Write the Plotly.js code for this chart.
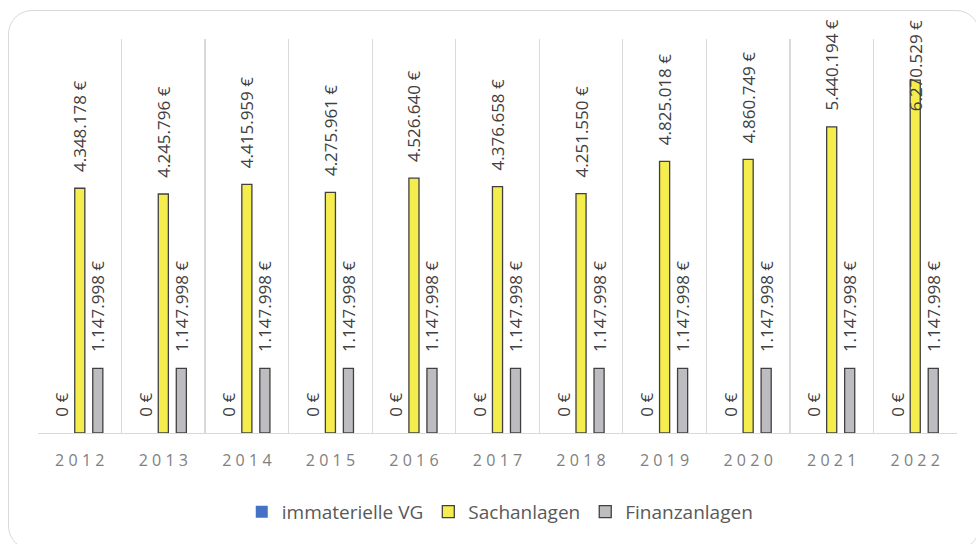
<!DOCTYPE html>
<html>
<head>
<meta charset="utf-8">
<script src="https://cdn.plot.ly/plotly-3.0.1.min.js"></script>
<style>
  html, body { margin: 0; padding: 0; background: #ffffff; }
  #wrap { position: relative; width: 976px; height: 544px; overflow: hidden; }
  #chart { position: absolute; left: 0; top: 0; width: 976px; height: 544px; }
  #frame { position: absolute; left: 8px; top: 10px; width: 972px; height: 540px;
           border: 1.5px solid #d9d9d9; border-radius: 24px; pointer-events: none; box-sizing: border-box; }
</style>
</head>
<body>
<div id="wrap">
  <div id="chart"></div>
  <div id="frame"></div>
</div>
<script>
const years = ['2012','2013','2014','2015','2016','2017','2018','2019','2020','2021','2022'];
const immaterielleVG = [0,0,0,0,0,0,0,0,0,0,0];
const sachanlagen = [4348178,4245796,4415959,4275961,4526640,4376658,4251550,4825018,4860749,5440194,6270529];
const finanzanlagen = [1147998,1147998,1147998,1147998,1147998,1147998,1147998,1147998,1147998,1147998,1147998];
const seriesNames = ['immaterielle VG','Sachanlagen','Finanzanlagen'];

function fmtEuro(v) {
  return Math.round(v).toString().replace(/\B(?=(\d{3})+(?!\d))/g, '.') + ' €';
}
function padLabel(t) { return '\u00A0\u00A0\u00A0' + t; }
const tickText = years.map(y => y.split('').join('\u2009\u200A'));

const FONT = '"Open Sans", "Noto Sans", sans-serif';
const labelFont = { family: FONT, size: 17, color: '#404040' };

// the last Sachanlagen label does not fit above the chart, so it is drawn as an annotation
const lastIdx = years.length - 1;

function barTrace(name, vals, color, lineW, skipLast) {
  return {
    type: 'bar', name: name, x: years, y: vals,
    marker: { color: color, line: { color: '#404040', width: lineW } },
    text: vals.map(v => padLabel(fmtEuro(v))),
    textposition: vals.map((v, i) => (skipLast && i === lastIdx) ? 'none' : 'outside'),
    textangle: -90,
    textfont: labelFont, cliponaxis: false, constraintext: 'none',
    hoverinfo: 'skip'
  };
}

const data = [
  barTrace(seriesNames[0], immaterielleVG, '#4472C4', 0, false),
  barTrace(seriesNames[1], sachanlagen, '#F5EC4E', 1.3, true),
  barTrace(seriesNames[2], finanzanlagen, '#BDBDC1', 1.3, false)
];

const layout = {
  width: 976, height: 544,
  margin: { l: 38, r: 19, t: 39, b: 111, pad: 0 },
  paper_bgcolor: 'rgba(0,0,0,0)', plot_bgcolor: 'rgba(0,0,0,0)',
  barmode: 'group', bargap: 0.353, bargroupgap: 0.44,
  font: { family: FONT },
  showlegend: true,
  legend: {
    orientation: 'h', x: 0.503, xanchor: 'center', y: -0.2, yanchor: 'middle',
    font: { family: FONT, size: 19, color: '#595959' }, itemwidth: 30,
    traceorder: 'normal'
  },
  xaxis: {
    type: 'category', tickson: 'boundaries', range: [-0.5, years.length - 0.5],
    ticks: '', ticklabelstandoff: 12,
    tickvals: years, ticktext: tickText, tickangle: 0,
    showgrid: true, gridcolor: '#d9d9d9', gridwidth: 1.3,
    showline: true, linecolor: '#d9d9d9', linewidth: 1.3,
    tickfont: { family: FONT, size: 16, color: '#808080' },
    fixedrange: true
  },
  yaxis: {
    range: [0, 7000000], showgrid: false, zeroline: false,
    showticklabels: false, ticks: '', showline: false, fixedrange: true
  },
  annotations: [{
    x: lastIdx, y: sachanlagen[lastIdx], xref: 'x', yref: 'y',
    text: fmtEuro(sachanlagen[lastIdx]), textangle: -90, showarrow: false,
    yshift: 14, font: labelFont
  }]
};

Plotly.newPlot('chart', data, layout, { staticPlot: true, displayModeBar: false });
</script>
</body>
</html>
